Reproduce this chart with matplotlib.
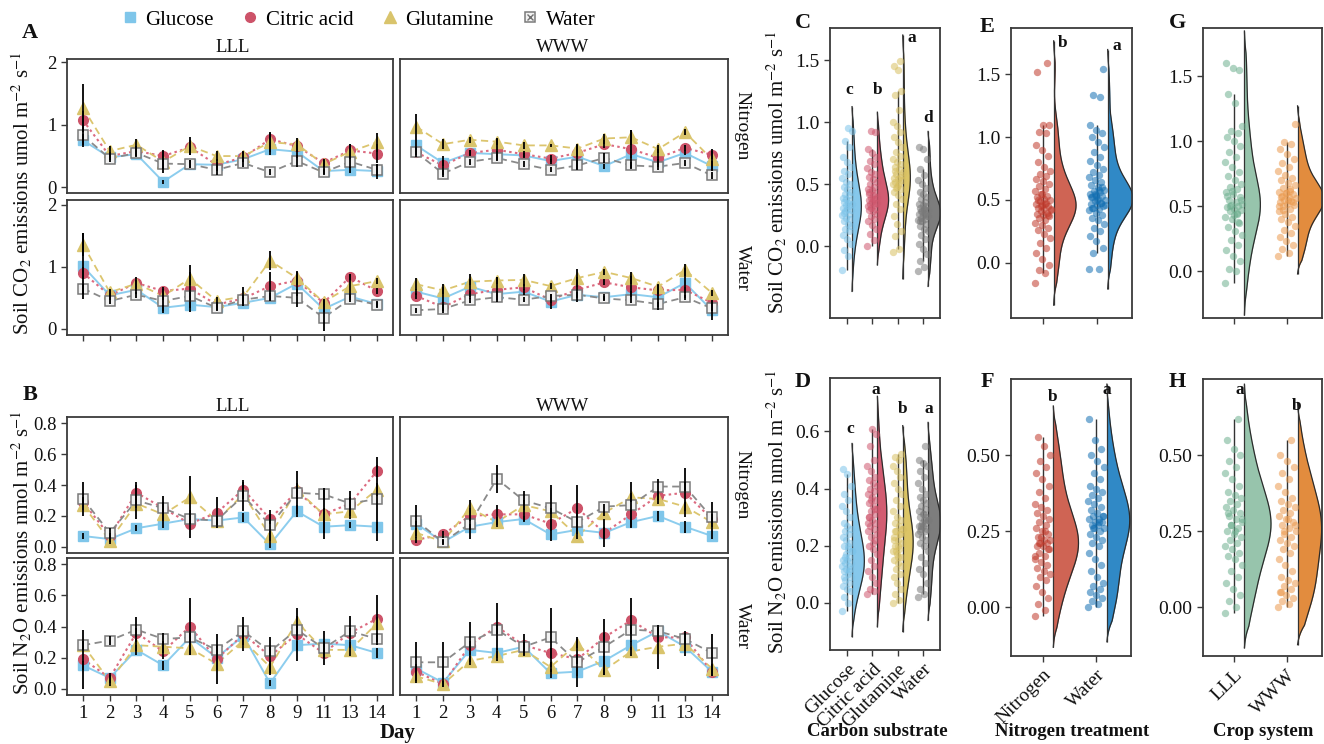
import numpy as np
import matplotlib
matplotlib.use("Agg")
import matplotlib.pyplot as plt
from matplotlib.lines import Line2D
from matplotlib.legend_handler import HandlerTuple

plt.rcParams['font.family'] = ['Liberation Serif', 'DejaVu Serif']
plt.rcParams['mathtext.fontset'] = 'stix'

# ---------------------------------------------------------------- data
days = ["1", "2", "3", "4", "5", "6", "7", "8", "9", "11", "13", "14"]
carbon = ["Glucose", "Citric acid", "Glutamine", "Water"]

# Soil CO2 (umol m-2 s-1), LLL, Nitrogen
co2_lll_n_glu = [0.75, 0.48, 0.53, 0.09, 0.37, 0.36, 0.45, 0.61, 0.57, 0.26, 0.28, 0.26]
co2_lll_n_cit = [1.07, 0.50, 0.58, 0.50, 0.64, 0.36, 0.48, 0.77, 0.66, 0.39, 0.59, 0.54]
co2_lll_n_gln = [1.27, 0.58, 0.68, 0.41, 0.66, 0.50, 0.50, 0.72, 0.69, 0.37, 0.57, 0.72]
co2_lll_n_wat = [0.83, 0.46, 0.55, 0.38, 0.37, 0.28, 0.39, 0.24, 0.42, 0.24, 0.41, 0.28]
co2_lll_n_glu_sd = [0.10, 0.05, 0.05, 0.03, 0.06, 0.05, 0.05, 0.10, 0.10, 0.05, 0.05, 0.12]
co2_lll_n_cit_sd = [0.15, 0.06, 0.08, 0.08, 0.12, 0.10, 0.08, 0.12, 0.10, 0.06, 0.10, 0.15]
co2_lll_n_gln_sd = [0.38, 0.08, 0.10, 0.18, 0.15, 0.08, 0.08, 0.15, 0.10, 0.06, 0.12, 0.15]
co2_lll_n_wat_sd = [0.15, 0.05, 0.05, 0.08, 0.06, 0.08, 0.06, 0.05, 0.10, 0.05, 0.10, 0.10]

# Soil CO2, WWW, Nitrogen
co2_www_n_glu = [0.67, 0.39, 0.55, 0.53, 0.51, 0.42, 0.49, 0.34, 0.53, 0.40, 0.55, 0.34]
co2_www_n_cit = [0.56, 0.35, 0.55, 0.60, 0.53, 0.46, 0.55, 0.69, 0.61, 0.47, 0.63, 0.52]
co2_www_n_gln = [0.97, 0.69, 0.76, 0.73, 0.67, 0.67, 0.62, 0.78, 0.80, 0.61, 0.88, 0.45]
co2_www_n_wat = [0.56, 0.22, 0.41, 0.47, 0.37, 0.28, 0.35, 0.47, 0.35, 0.33, 0.39, 0.19]
co2_www_n_glu_sd = [0.10, 0.05, 0.04, 0.05, 0.04, 0.04, 0.20, 0.04, 0.06, 0.05, 0.04, 0.08]
co2_www_n_cit_sd = [0.08, 0.15, 0.05, 0.17, 0.05, 0.05, 0.06, 0.06, 0.30, 0.14, 0.05, 0.06]
co2_www_n_gln_sd = [0.20, 0.08, 0.05, 0.06, 0.05, 0.03, 0.05, 0.08, 0.12, 0.06, 0.05, 0.17]
co2_www_n_wat_sd = [0.05, 0.05, 0.05, 0.05, 0.05, 0.04, 0.08, 0.08, 0.05, 0.05, 0.05, 0.05]

# Soil CO2, LLL, Water
co2_lll_w_glu = [1.01, 0.54, 0.63, 0.34, 0.39, 0.35, 0.42, 0.50, 0.73, 0.32, 0.52, 0.40]
co2_lll_w_cit = [0.90, 0.54, 0.74, 0.61, 0.65, 0.39, 0.49, 0.69, 0.78, 0.42, 0.84, 0.61]
co2_lll_w_gln = [1.36, 0.59, 0.73, 0.53, 0.81, 0.45, 0.52, 1.10, 0.82, 0.43, 0.69, 0.77]
co2_lll_w_wat = [0.65, 0.45, 0.55, 0.45, 0.53, 0.34, 0.47, 0.53, 0.50, 0.18, 0.48, 0.39]
co2_lll_w_glu_sd = [0.53, 0.08, 0.06, 0.05, 0.05, 0.05, 0.05, 0.05, 0.20, 0.05, 0.05, 0.05]
co2_lll_w_cit_sd = [0.10, 0.05, 0.10, 0.06, 0.38, 0.05, 0.05, 0.22, 0.08, 0.05, 0.05, 0.05]
co2_lll_w_gln_sd = [0.18, 0.06, 0.06, 0.06, 0.10, 0.06, 0.15, 0.15, 0.10, 0.05, 0.20, 0.05]
co2_lll_w_wat_sd = [0.08, 0.05, 0.05, 0.20, 0.06, 0.06, 0.05, 0.05, 0.15, 0.22, 0.05, 0.05]

# Soil CO2, WWW, Water
co2_www_w_glu = [0.60, 0.49, 0.68, 0.56, 0.60, 0.44, 0.55, 0.51, 0.56, 0.51, 0.74, 0.30]
co2_www_w_cit = [0.53, 0.35, 0.56, 0.63, 0.67, 0.47, 0.63, 0.75, 0.67, 0.62, 0.63, 0.42]
co2_www_w_gln = [0.72, 0.62, 0.76, 0.78, 0.79, 0.69, 0.82, 0.92, 0.82, 0.68, 0.95, 0.58]
co2_www_w_wat = [0.30, 0.32, 0.46, 0.51, 0.47, 0.53, 0.55, 0.49, 0.46, 0.40, 0.51, 0.33]
co2_www_w_glu_sd = [0.05, 0.24, 0.20, 0.05, 0.05, 0.12, 0.05, 0.05, 0.05, 0.20, 0.25, 0.15]
co2_www_w_cit_sd = [0.05, 0.05, 0.05, 0.20, 0.05, 0.05, 0.20, 0.05, 0.18, 0.05, 0.05, 0.05]
co2_www_w_gln_sd = [0.10, 0.05, 0.05, 0.05, 0.10, 0.05, 0.15, 0.05, 0.10, 0.05, 0.10, 0.05]
co2_www_w_wat_sd = [0.04, 0.04, 0.04, 0.04, 0.04, 0.04, 0.04, 0.04, 0.04, 0.04, 0.04, 0.04]

# Soil N2O (nmol m-2 s-1), LLL, Nitrogen
n2o_lll_n_glu = [0.07, 0.05, 0.12, 0.15, 0.18, 0.17, 0.19, 0.015, 0.23, 0.13, 0.14, 0.13]
n2o_lll_n_cit = [0.29, 0.07, 0.35, 0.25, 0.15, 0.22, 0.37, 0.18, 0.36, 0.21, 0.28, 0.49]
n2o_lll_n_gln = [0.27, 0.04, 0.28, 0.21, 0.32, 0.17, 0.34, 0.07, 0.37, 0.21, 0.23, 0.37]
n2o_lll_n_wat = [0.31, 0.09, 0.30, 0.25, 0.18, 0.17, 0.33, 0.14, 0.35, 0.34, 0.28, 0.31]
n2o_lll_n_glu_sd = [0.02, 0.02, 0.02, 0.03, 0.03, 0.03, 0.03, 0.02, 0.04, 0.04, 0.02, 0.03]
n2o_lll_n_cit_sd = [0.03, 0.02, 0.05, 0.04, 0.09, 0.10, 0.05, 0.03, 0.05, 0.04, 0.04, 0.04]
n2o_lll_n_gln_sd = [0.03, 0.02, 0.03, 0.03, 0.14, 0.03, 0.03, 0.03, 0.03, 0.16, 0.05, 0.04]
n2o_lll_n_wat_sd = [0.11, 0.03, 0.12, 0.08, 0.03, 0.03, 0.10, 0.10, 0.14, 0.04, 0.08, 0.27]

# Soil N2O, WWW, Nitrogen
n2o_www_n_glu = [0.15, 0.03, 0.13, 0.16, 0.18, 0.08, 0.11, 0.09, 0.16, 0.20, 0.13, 0.07]
n2o_www_n_cit = [0.045, 0.08, 0.20, 0.21, 0.21, 0.15, 0.25, 0.09, 0.21, 0.33, 0.35, 0.18]
n2o_www_n_gln = [0.09, 0.035, 0.25, 0.16, 0.27, 0.23, 0.07, 0.22, 0.32, 0.31, 0.26, 0.16]
n2o_www_n_wat = [0.17, 0.03, 0.15, 0.44, 0.30, 0.25, 0.16, 0.26, 0.27, 0.39, 0.39, 0.19]
n2o_www_n_glu_sd = [0.02, 0.01, 0.02, 0.02, 0.02, 0.04, 0.03, 0.04, 0.03, 0.03, 0.04, 0.02]
n2o_www_n_cit_sd = [0.02, 0.02, 0.03, 0.06, 0.04, 0.03, 0.15, 0.09, 0.03, 0.03, 0.16, 0.03]
n2o_www_n_gln_sd = [0.03, 0.01, 0.05, 0.03, 0.03, 0.02, 0.02, 0.02, 0.03, 0.03, 0.03, 0.03]
n2o_www_n_wat_sd = [0.10, 0.02, 0.10, 0.09, 0.06, 0.15, 0.08, 0.02, 0.15, 0.05, 0.03, 0.10]

# Soil N2O, LLL, Water
n2o_lll_w_glu = [0.15, 0.07, 0.25, 0.15, 0.33, 0.20, 0.34, 0.035, 0.28, 0.29, 0.28, 0.23]
n2o_lll_w_cit = [0.19, 0.07, 0.36, 0.24, 0.40, 0.19, 0.35, 0.21, 0.35, 0.23, 0.36, 0.45]
n2o_lll_w_gln = [0.28, 0.05, 0.28, 0.27, 0.26, 0.16, 0.31, 0.14, 0.43, 0.25, 0.25, 0.42]
n2o_lll_w_wat = [0.28, 0.31, 0.38, 0.32, 0.33, 0.25, 0.37, 0.24, 0.38, 0.26, 0.37, 0.32]
n2o_lll_w_glu_sd = [0.03, 0.02, 0.03, 0.03, 0.03, 0.03, 0.03, 0.02, 0.03, 0.02, 0.02, 0.03]
n2o_lll_w_cit_sd = [0.19, 0.03, 0.03, 0.05, 0.18, 0.16, 0.11, 0.12, 0.17, 0.03, 0.03, 0.15]
n2o_lll_w_gln_sd = [0.03, 0.03, 0.04, 0.04, 0.04, 0.04, 0.03, 0.04, 0.04, 0.03, 0.04, 0.04]
n2o_lll_w_wat_sd = [0.03, 0.03, 0.08, 0.04, 0.03, 0.03, 0.03, 0.03, 0.04, 0.11, 0.10, 0.04]

# Soil N2O, WWW, Water
n2o_www_w_glu = [0.13, 0.04, 0.25, 0.23, 0.27, 0.10, 0.11, 0.18, 0.28, 0.37, 0.27, 0.11]
n2o_www_w_cit = [0.11, 0.03, 0.28, 0.40, 0.28, 0.23, 0.19, 0.33, 0.44, 0.33, 0.33, 0.11]
n2o_www_w_gln = [0.08, 0.03, 0.18, 0.21, 0.25, 0.14, 0.29, 0.12, 0.24, 0.27, 0.29, 0.13]
n2o_www_w_wat = [0.17, 0.17, 0.30, 0.38, 0.27, 0.33, 0.17, 0.27, 0.38, 0.37, 0.32, 0.23]
n2o_www_w_glu_sd = [0.03, 0.01, 0.03, 0.03, 0.03, 0.03, 0.03, 0.03, 0.03, 0.03, 0.03, 0.03]
n2o_www_w_cit_sd = [0.03, 0.02, 0.03, 0.15, 0.07, 0.03, 0.03, 0.03, 0.14, 0.03, 0.03, 0.03]
n2o_www_w_gln_sd = [0.03, 0.02, 0.03, 0.03, 0.03, 0.03, 0.03, 0.03, 0.03, 0.14, 0.08, 0.03]
n2o_www_w_wat_sd = [0.13, 0.13, 0.13, 0.03, 0.03, 0.19, 0.16, 0.18, 0.03, 0.03, 0.03, 0.12]

# Pooled observations, CO2 by carbon substrate
co2_glucose = [-0.19, -0.08, -0.03, 0.02, 0.06, 0.09, 0.12, 0.14, 0.16, 0.18, 0.20, 0.22, 0.23,
               0.25, 0.26, 0.28, 0.29, 0.30, 0.31, 0.32, 0.33, 0.34, 0.35, 0.36, 0.37, 0.38,
               0.39, 0.41, 0.42, 0.44, 0.46, 0.48, 0.50, 0.52, 0.55, 0.58, 0.61, 0.64, 0.68,
               0.72, 0.80, 0.85, 0.93, 0.95, 0.27]
co2_citric = [0.00, 0.05, 0.10, 0.14, 0.17, 0.20, 0.22, 0.24, 0.26, 0.28, 0.29, 0.30, 0.31,
              0.32, 0.33, 0.34, 0.35, 0.36, 0.37, 0.38, 0.39, 0.40, 0.41, 0.42, 0.43, 0.45,
              0.46, 0.48, 0.50, 0.52, 0.54, 0.56, 0.58, 0.60, 0.63, 0.66, 0.69, 0.72, 0.75,
              0.78, 0.92, 0.93, 0.35, 0.38, 0.44]
co2_glutamine = [-0.05, -0.02, 0.08, 0.12, 0.18, 0.24, 0.30, 0.34, 0.38, 0.41, 0.44, 0.46,
                 0.48, 0.50, 0.51, 0.52, 0.53, 0.54, 0.55, 0.56, 0.58, 0.60, 0.62, 0.64, 0.66,
                 0.68, 0.70, 0.73, 0.76, 0.80, 0.84, 0.88, 0.92, 0.97, 1.00, 1.10, 1.22, 1.25,
                 1.42, 1.45, 1.49, 0.47, 0.57, 0.49, 0.61]
co2_water = [-0.20, -0.17, -0.12, -0.06, -0.02, 0.02, 0.06, 0.09, 0.12, 0.14, 0.16, 0.18, 0.20,
             0.21, 0.22, 0.23, 0.24, 0.25, 0.26, 0.27, 0.28, 0.29, 0.30, 0.31, 0.32, 0.33,
             0.34, 0.36, 0.38, 0.40, 0.42, 0.44, 0.47, 0.50, 0.53, 0.57, 0.62, 0.70, 0.78,
             0.80, 0.26, 0.28, 0.24, 0.30, 0.20]

# Pooled observations, N2O by carbon substrate
n2o_glucose = [-0.03, 0.00, 0.02, 0.04, 0.05, 0.06, 0.07, 0.08, 0.09, 0.10, 0.11, 0.12, 0.12,
               0.13, 0.13, 0.14, 0.14, 0.15, 0.15, 0.16, 0.17, 0.18, 0.19, 0.20, 0.21, 0.22,
               0.23, 0.24, 0.25, 0.26, 0.27, 0.28, 0.30, 0.32, 0.34, 0.36, 0.38, 0.41, 0.45,
               0.47, 0.11, 0.16, 0.18, 0.20, 0.09]
n2o_citric = [0.03, 0.04, 0.05, 0.07, 0.09, 0.11, 0.13, 0.15, 0.17, 0.19, 0.20, 0.22, 0.23,
              0.25, 0.26, 0.27, 0.28, 0.29, 0.30, 0.31, 0.32, 0.33, 0.34, 0.35, 0.36, 0.37,
              0.38, 0.39, 0.40, 0.41, 0.42, 0.43, 0.44, 0.46, 0.48, 0.50, 0.55, 0.59, 0.61,
              0.28, 0.33, 0.36, 0.24, 0.21, 0.30]
n2o_glutamine = [0.00, 0.01, 0.03, 0.05, 0.07, 0.09, 0.10, 0.12, 0.13, 0.14, 0.15, 0.16, 0.17,
                 0.18, 0.19, 0.20, 0.21, 0.22, 0.23, 0.24, 0.25, 0.26, 0.27, 0.28, 0.29, 0.30,
                 0.32, 0.34, 0.36, 0.38, 0.40, 0.42, 0.44, 0.46, 0.48, 0.50, 0.51, 0.52, 0.20,
                 0.22, 0.24, 0.18, 0.26, 0.16, 0.25]
n2o_water = [0.02, 0.03, 0.05, 0.07, 0.10, 0.12, 0.14, 0.16, 0.18, 0.20, 0.21, 0.22, 0.23,
             0.24, 0.25, 0.26, 0.26, 0.27, 0.27, 0.28, 0.28, 0.29, 0.29, 0.30, 0.30, 0.31,
             0.32, 0.33, 0.34, 0.35, 0.36, 0.37, 0.38, 0.40, 0.42, 0.44, 0.46, 0.48, 0.49,
             0.50, 0.55, 0.27, 0.29, 0.31, 0.25]

# Pooled observations by nitrogen treatment
co2_nitrogen = [-0.16, -0.08, -0.06, -0.02, 0.03, 0.08, 0.12, 0.16, 0.20, 0.23, 0.26, 0.28,
                0.30, 0.32, 0.34, 0.36, 0.37, 0.38, 0.39, 0.40, 0.41, 0.42, 0.43, 0.44, 0.45,
                0.46, 0.47, 0.48, 0.49, 0.50, 0.51, 0.52, 0.53, 0.55, 0.57, 0.59, 0.61, 0.63,
                0.65, 0.67, 0.69, 0.71, 0.73, 0.76, 0.80, 0.85, 0.90, 0.94, 1.03, 1.04, 1.10,
                1.10, 1.52, 1.59, 0.45, 0.43, 0.47, 0.50, 0.38, 0.55]
co2_water_trt = [-0.05, -0.05, 0.08, 0.12, 0.17, 0.21, 0.25, 0.28, 0.31, 0.34, 0.36, 0.38,
                 0.40, 0.42, 0.43, 0.44, 0.45, 0.46, 0.47, 0.48, 0.49, 0.50, 0.51, 0.52, 0.53,
                 0.54, 0.55, 0.56, 0.57, 0.58, 0.60, 0.62, 0.64, 0.66, 0.68, 0.70, 0.72, 0.75,
                 0.78, 0.81, 0.84, 0.88, 0.92, 0.96, 1.00, 1.03, 1.06, 1.10, 1.32, 1.34, 1.54,
                 0.50, 0.52, 0.48, 0.55, 0.46, 0.58, 0.44, 0.60, 0.53]
n2o_nitrogen = [-0.03, -0.01, 0.01, 0.03, 0.05, 0.07, 0.09, 0.10, 0.11, 0.12, 0.13, 0.14,
                0.15, 0.16, 0.17, 0.18, 0.19, 0.20, 0.20, 0.21, 0.21, 0.22, 0.22, 0.23, 0.24,
                0.25, 0.26, 0.27, 0.28, 0.29, 0.30, 0.31, 0.32, 0.33, 0.34, 0.36, 0.38, 0.40,
                0.42, 0.44, 0.46, 0.48, 0.50, 0.53, 0.56, 0.19, 0.23, 0.17, 0.25, 0.21]
n2o_water_trt = [0.00, 0.01, 0.02, 0.03, 0.04, 0.05, 0.06, 0.07, 0.08, 0.10, 0.12, 0.14, 0.16,
                 0.18, 0.20, 0.21, 0.22, 0.23, 0.24, 0.25, 0.26, 0.26, 0.27, 0.27, 0.28, 0.28,
                 0.29, 0.29, 0.30, 0.30, 0.31, 0.32, 0.33, 0.34, 0.35, 0.36, 0.37, 0.38, 0.39,
                 0.40, 0.42, 0.44, 0.46, 0.48, 0.50, 0.52, 0.55, 0.62, 0.28, 0.26, 0.30]

# Pooled observations by crop system
co2_lll = [-0.09, 0.00, 0.02, 0.08, 0.12, 0.16, 0.20, 0.24, 0.28, 0.31, 0.34, 0.37, 0.40,
           0.42, 0.44, 0.46, 0.47, 0.48, 0.49, 0.50, 0.51, 0.52, 0.53, 0.55, 0.57, 0.59,
           0.61, 0.63, 0.65, 0.67, 0.70, 0.73, 0.76, 0.80, 0.84, 0.88, 0.92, 0.96, 1.00,
           1.03, 1.06, 1.08, 1.12, 1.29, 1.36, 1.55, 1.56, 1.60, 0.45, 0.50, 0.55, 0.43,
           0.58, 0.38, 0.62]
co2_www = [0.12, 0.14, 0.17, 0.20, 0.23, 0.26, 0.29, 0.32, 0.35, 0.38, 0.40, 0.42, 0.44,
           0.46, 0.48, 0.50, 0.51, 0.52, 0.53, 0.54, 0.55, 0.56, 0.57, 0.58, 0.59, 0.60,
           0.61, 0.62, 0.64, 0.66, 0.68, 0.70, 0.72, 0.74, 0.77, 0.80, 0.83, 0.86, 0.90,
           0.94, 0.98, 0.99, 1.13, 0.55, 0.57, 0.53, 0.60, 0.50, 0.63, 0.47]
n2o_lll = [-0.02, 0.00, 0.02, 0.04, 0.06, 0.08, 0.10, 0.12, 0.14, 0.16, 0.17, 0.18, 0.19,
           0.20, 0.21, 0.22, 0.23, 0.24, 0.25, 0.26, 0.27, 0.28, 0.29, 0.30, 0.31, 0.32,
           0.33, 0.34, 0.35, 0.36, 0.37, 0.38, 0.40, 0.42, 0.44, 0.46, 0.48, 0.50, 0.52,
           0.55, 0.62, 0.27, 0.29, 0.25, 0.31]
n2o_www = [0.00, 0.01, 0.02, 0.03, 0.04, 0.05, 0.06, 0.07, 0.08, 0.09, 0.10, 0.12, 0.14,
           0.16, 0.18, 0.19, 0.20, 0.21, 0.22, 0.23, 0.24, 0.25, 0.26, 0.27, 0.28, 0.29,
           0.30, 0.31, 0.32, 0.33, 0.34, 0.35, 0.36, 0.38, 0.40, 0.42, 0.44, 0.46, 0.48,
           0.50, 0.55, 0.25, 0.27, 0.29, 0.05]

# Significance letters
letters_co2_carbon = ["c", "b", "a", "d"]
letters_n2o_carbon = ["c", "a", "b", "a"]
letters_co2_nitrogen = ["b", "a"]
letters_n2o_nitrogen = ["b", "a"]
letters_n2o_crop = ["a", "b"]

# ---------------------------------------------------------------- figure
W, H = 1324, 744
fig = plt.figure(figsize=(W / 100, H / 100), dpi=100)
TXT = '#111111'
FRAME = '#3a3a3a'


def px_axes(x0, y0, x1, y1):
    return fig.add_axes([x0 / W, 1 - y1 / H, (x1 - x0) / W, (y1 - y0) / H])


def ftext(x, y, s, **kw):
    fig.text(x / W, 1 - y / H, s, **kw)


line_styles = {
    "Glucose": dict(color='#8ccdee', ls='-', lw=1.4),
    "Citric acid": dict(color='#dc6b80', ls=(0, (1.2, 1.6)), lw=1.5),
    "Glutamine": dict(color='#dcc56e', ls=(0, (4, 2.5)), lw=1.3),
    "Water": dict(color='#8a8a8a', ls=(0, (4, 2.5)), lw=1.3),
}
marker_styles = {
    "Glucose": dict(marker='s', ms=7, mfc='#7fc6ea', mec='#7fc6ea'),
    "Citric acid": dict(marker='o', ms=7, mfc='#cd5369', mec='#cd5369'),
    "Glutamine": dict(marker='^', ms=8.5, mfc='#d9c46c', mec='#d9c46c'),
    "Water": dict(marker='s', ms=7, mfc='#f2f2f2', mec='#7a7a7a', mew=1.1),
}


def style_frame(ax, size=13.5):
    for sp in ax.spines.values():
        sp.set_color(FRAME)
        sp.set_linewidth(1.3)
    ax.tick_params(colors=FRAME, labelcolor=TXT, labelsize=size, length=4, width=1)


def series_panel(ax, means, sds, ylim, yticks, ylabels, show_y, show_xticks, show_xlabels):
    xs = np.arange(len(days))
    order = ["Water", "Glucose", "Citric acid", "Glutamine"]
    for name in order:
        i = carbon.index(name)
        m = np.asarray(means[i], float)
        ax.plot(xs, m, zorder=2 + i * 0.1, **line_styles[name])
    for name in order:
        i = carbon.index(name)
        m = np.asarray(means[i], float)
        ax.plot(xs, m, ls='none', zorder=3 + i * 0.1, **marker_styles[name])
        if name == "Water":
            ax.plot(xs, m, ls='none', marker='x', ms=4.2, mew=1.0, color='#707070', zorder=3.05)
    for i in range(4):
        m = np.asarray(means[i], float)
        s = np.asarray(sds[i], float)
        ax.vlines(xs, m - s, m + s, color='black', lw=1.3, zorder=6)
    ax.set_xlim(-0.6, 11.6)
    ax.set_ylim(*ylim)
    style_frame(ax)
    ax.set_xticks(xs)
    if show_xlabels:
        ax.set_xticklabels(days)
    else:
        ax.set_xticklabels([])
    if not show_xticks:
        ax.tick_params(axis='x', length=0)
    ax.set_yticks(yticks)
    if show_y:
        ax.set_yticklabels(ylabels)
    else:
        ax.set_yticklabels([])
        ax.tick_params(axis='y', length=0)


def group(a, b, c, d):
    return [a, b, c, d]


# Panel A (CO2)
axA1 = px_axes(67, 59, 393, 193)
series_panel(axA1, group(co2_lll_n_glu, co2_lll_n_cit, co2_lll_n_gln, co2_lll_n_wat),
             group(co2_lll_n_glu_sd, co2_lll_n_cit_sd, co2_lll_n_gln_sd, co2_lll_n_wat_sd),
             (-0.09, 2.05), [0, 1, 2], ["0", "1", "2"], True, False, False)
axA2 = px_axes(400, 59, 728, 193)
series_panel(axA2, group(co2_www_n_glu, co2_www_n_cit, co2_www_n_gln, co2_www_n_wat),
             group(co2_www_n_glu_sd, co2_www_n_cit_sd, co2_www_n_gln_sd, co2_www_n_wat_sd),
             (-0.09, 2.05), [0, 1, 2], ["0", "1", "2"], False, False, False)
axA3 = px_axes(67, 200, 393, 335)
series_panel(axA3, group(co2_lll_w_glu, co2_lll_w_cit, co2_lll_w_gln, co2_lll_w_wat),
             group(co2_lll_w_glu_sd, co2_lll_w_cit_sd, co2_lll_w_gln_sd, co2_lll_w_wat_sd),
             (-0.1, 2.08), [0, 1, 2], ["0", "1", "2"], True, True, False)
axA4 = px_axes(400, 200, 728, 335)
series_panel(axA4, group(co2_www_w_glu, co2_www_w_cit, co2_www_w_gln, co2_www_w_wat),
             group(co2_www_w_glu_sd, co2_www_w_cit_sd, co2_www_w_gln_sd, co2_www_w_wat_sd),
             (-0.1, 2.08), [0, 1, 2], ["0", "1", "2"], False, True, False)

# Panel B (N2O)
bt = [0, 0.2, 0.4, 0.6, 0.8]
bl = ["0.0", "0.2", "0.4", "0.6", "0.8"]
axB1 = px_axes(67, 417, 393, 553)
series_panel(axB1, group(n2o_lll_n_glu, n2o_lll_n_cit, n2o_lll_n_gln, n2o_lll_n_wat),
             group(n2o_lll_n_glu_sd, n2o_lll_n_cit_sd, n2o_lll_n_gln_sd, n2o_lll_n_wat_sd),
             (-0.04, 0.84), bt, bl, True, False, False)
axB2 = px_axes(400, 417, 728, 553)
series_panel(axB2, group(n2o_www_n_glu, n2o_www_n_cit, n2o_www_n_gln, n2o_www_n_wat),
             group(n2o_www_n_glu_sd, n2o_www_n_cit_sd, n2o_www_n_gln_sd, n2o_www_n_wat_sd),
             (-0.04, 0.84), bt, bl, False, False, False)
axB3 = px_axes(67, 558, 393, 695)
series_panel(axB3, group(n2o_lll_w_glu, n2o_lll_w_cit, n2o_lll_w_gln, n2o_lll_w_wat),
             group(n2o_lll_w_glu_sd, n2o_lll_w_cit_sd, n2o_lll_w_gln_sd, n2o_lll_w_wat_sd),
             (-0.04, 0.84), bt, bl, True, True, True)
axB4 = px_axes(400, 558, 728, 695)
series_panel(axB4, group(n2o_www_w_glu, n2o_www_w_cit, n2o_www_w_gln, n2o_www_w_wat),
             group(n2o_www_w_glu_sd, n2o_www_w_cit_sd, n2o_www_w_gln_sd, n2o_www_w_wat_sd),
             (-0.04, 0.84), bt, bl, False, True, True)

# Strip labels
for yy in (47, 407):
    ftext(233, yy, "LLL", ha='center', va='center', fontsize=13.5, color=TXT)
    ftext(563, yy, "WWW", ha='center', va='center', fontsize=13.5, color=TXT)
for yy, s in ((126, "Nitrogen"), (268, "Water"), (485, "Nitrogen"), (626, "Water")):
    ftext(742, yy, s, ha='center', va='center', rotation=-90, fontsize=14, color=TXT)

ftext(30, 33, "A", fontsize=16, fontweight='bold', ha='center', va='center', color=TXT)
ftext(30, 395, "B", fontsize=16, fontweight='bold', ha='center', va='center', color=TXT)
ftext(22, 193, "Soil CO$_2$ emissions umol m$^{-2}$ s$^{-1}$", rotation=90,
      ha='center', va='center', fontsize=15, color=TXT)
ftext(22, 553, "Soil N$_2$O emissions nmol m$^{-2}$ s$^{-1}$", rotation=90,
      ha='center', va='center', fontsize=15, color=TXT)
ftext(398, 733, "Day", ha='center', va='center', fontsize=15, fontweight='bold', color=TXT)

# Legend
handles = []
for name in carbon:
    st = dict(marker_styles[name])
    h = Line2D([], [], ls='none', **st)
    if name == "Water":
        h = (h, Line2D([], [], ls='none', marker='x', ms=4.2, mew=1.0, color='#707070'))
    handles.append(h)
fig.legend(handles, carbon, loc='center', bbox_to_anchor=(358 / W, 1 - 20 / H), ncol=4,
           frameon=False, fontsize=15, handletextpad=0.3, columnspacing=1.3,
           handlelength=0.9, handler_map={tuple: HandlerTuple(ndivide=1, pad=0)})


# ---------------------------------------------------------------- rainclouds
def kde(v, adjust=1.5, cut=2.0):
    v = np.asarray(v, float)
    q1, q3 = np.percentile(v, [25, 75])
    bw0 = 0.9 * min(v.std(ddof=1), (q3 - q1) / 1.34) * len(v) ** -0.2
    bw = adjust * bw0
    grid = np.linspace(v.min() - cut * bw0, v.max() + cut * bw0, 400)
    d = np.exp(-0.5 * ((grid[:, None] - v[None, :]) / bw) ** 2).sum(1) / (len(v) * bw * np.sqrt(2 * np.pi))
    return grid, d


def raincloud(ax, groups, pt_colors, fill_colors, ylim, xlim, yticks, ylabels,
              jitter=0.15, maxw=0.47):
    pos = np.arange(1, len(groups) + 1)
    dens = [kde(g) for g in groups]
    dmax = max(d.max() for _, d in dens)
    for p, g, (grid, d), pc, fc in zip(pos, groups, dens, pt_colors, fill_colors):
        v = np.asarray(g, float)
        x0 = p + 0.2
        # taper the tails so the outline meets the flat edge smoothly
        taper = np.clip(np.minimum(grid - grid[0], grid[-1] - grid) / (0.08 * (grid[-1] - grid[0])), 0, 1)
        xw = x0 + d / dmax * maxw * taper
        ax.fill_betweenx(grid, x0, xw, color=fc, lw=0, zorder=2)
        ax.plot(xw, grid, color='#2b2b2b', lw=0.9, zorder=3)
        ax.vlines(x0, grid[0], grid[-1], color='#333333', lw=0.9, zorder=3)
        q1, q3 = np.percentile(v, [25, 75])
        iqr = q3 - q1
        lo = v[v >= q1 - 1.5 * iqr].min()
        hi = v[v <= q3 + 1.5 * iqr].max()
        ax.vlines(p, lo, hi, color='#333333', lw=1.0, zorder=1)
        jit = ((np.arange(len(v)) * 0.6180339887) % 1 - 0.5) * 2 * jitter
        ax.scatter(p + jit, v, s=28, color=pc, alpha=0.55, lw=0, zorder=4)
    ax.set_xlim(*xlim)
    ax.set_ylim(*ylim)
    style_frame(ax, 14)
    ax.set_yticks(yticks)
    ax.set_yticklabels(ylabels)
    ax.set_xticks(pos)
    ax.set_xticklabels([])
    return pos


carbon_pts = ['#7cc4ea', '#cf566d', '#d8c062', '#7a7a7a']
carbon_fill = ['#86c8ec', '#d25c72', '#dcc566', '#7d7d7d']
nit_pts = ['#c0392b', '#1470b3']
nit_fill = ['#cf6454', '#3089c6']
crop_pts = ['#6daf8f', '#eb9a4e']
crop_fill = ['#97c4ac', '#e28c3e']

yt_co2 = [0.0, 0.5, 1.0, 1.5]
yl_co2 = ["0.0", "0.5", "1.0", "1.5"]

axC = px_axes(830, 28, 940, 318)
raincloud(axC, [co2_glucose, co2_citric, co2_glutamine, co2_water], carbon_pts, carbon_fill,
          (-0.58, 1.76), (0.33, 4.67), yt_co2, yl_co2, jitter=0.2, maxw=0.5)
axE = px_axes(1011, 28, 1132, 318)
raincloud(axE, [co2_nitrogen, co2_water_trt], nit_pts, nit_fill,
          (-0.44, 1.87), (0.41, 2.65), yt_co2, yl_co2, jitter=0.15, maxw=0.47)
axG = px_axes(1203, 28, 1322, 318)
raincloud(axG, [co2_lll, co2_www], crop_pts, crop_fill,
          (-0.36, 1.87), (0.42, 2.66), yt_co2, yl_co2, jitter=0.17, maxw=0.5)

axD = px_axes(830, 378, 940, 650)
raincloud(axD, [n2o_glucose, n2o_citric, n2o_glutamine, n2o_water], carbon_pts, carbon_fill,
          (-0.165, 0.787), (0.33, 4.67), [0.0, 0.2, 0.4, 0.6], ["0.0", "0.2", "0.4", "0.6"],
          jitter=0.2, maxw=0.5)
axF = px_axes(1011, 379, 1131, 656)
raincloud(axF, [n2o_nitrogen, n2o_water_trt], nit_pts, nit_fill,
          (-0.16, 0.75), (0.41, 2.65), [0.0, 0.25, 0.5], ["0.00", "0.25", "0.50"],
          jitter=0.15, maxw=0.47)
axH = px_axes(1203, 379, 1322, 656)
raincloud(axH, [n2o_lll, n2o_www], crop_pts, crop_fill,
          (-0.16, 0.75), (0.42, 2.66), [0.0, 0.25, 0.5], ["0.00", "0.25", "0.50"],
          jitter=0.17, maxw=0.5)

for ax, labels in ((axD, carbon), (axF, ["Nitrogen", "Water"]), (axH, ["LLL", "WWW"])):
    ax.set_xticklabels(labels, rotation=45, ha='right', rotation_mode='anchor', fontsize=14)

# Significance letters
lk = dict(fontsize=12.5, fontweight='bold', ha='center', va='center', color=TXT)
for (x, y), s in zip([(1.08, 1.26), (2.19, 1.26), (3.57, 1.68), (4.2, 1.03)], letters_co2_carbon):
    axC.text(x, y, s, **lk)
for (x, y), s in zip([(1.37, 1.75), (2.37, 1.73)], letters_co2_nitrogen):
    axE.text(x, y, s, **lk)
for (x, y), s in zip([(1.12, 0.61), (2.15, 0.745), (3.21, 0.68), (4.24, 0.68)], letters_n2o_carbon):
    axD.text(x, y, s, **lk)
for (x, y), s in zip([(1.19, 0.69), (2.2, 0.715)], letters_n2o_nitrogen):
    axF.text(x, y, s, **lk)
for (x, y), s in zip([(1.11, 0.715), (2.19, 0.66)], letters_n2o_crop):
    axH.text(x, y, s, **lk)

# Panel letters and axis titles
pk = dict(fontsize=16, fontweight='bold', ha='center', va='center', color=TXT)
for x, y, s in ((803, 23, "C"), (987, 27, "E"), (1177, 23, "G"),
                (803, 382, "D"), (987, 382, "F"), (1177, 382, "H")):
    ftext(x, y, s, **pk)
ftext(777, 172, "Soil CO$_2$ emissions umol m$^{-2}$ s$^{-1}$", rotation=90,
      ha='center', va='center', fontsize=15, color=TXT)
ftext(777, 512, "Soil N$_2$O emissions nmol m$^{-2}$ s$^{-1}$", rotation=90,
      ha='center', va='center', fontsize=15, color=TXT)
xk = dict(fontsize=13.5, fontweight='bold', ha='center', va='center', color=TXT)
ftext(877, 732, "Carbon substrate", **xk)
ftext(1072, 732, "Nitrogen treatment", **xk)
ftext(1263, 732, "Crop system", **xk)

fig.savefig("out.png", dpi=100)
